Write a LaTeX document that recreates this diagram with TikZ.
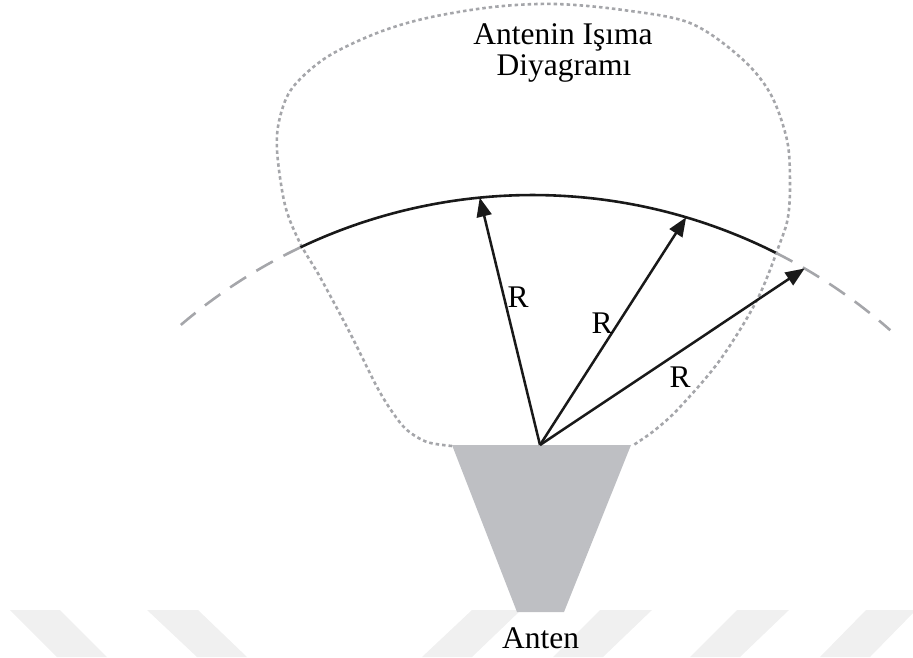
\documentclass[tikz,border=0pt]{standalone}
\usepackage{fontspec}
\setmainfont{Liberation Serif}
\usetikzlibrary{arrows.meta,calc}
\definecolor{wm}{RGB}{240,240,240}
\definecolor{dotgray}{RGB}{165,166,170}
\definecolor{antgray}{RGB}{190,191,195}
\begin{document}
\begin{tikzpicture}[x=1pt,y=1pt,
  lbl/.style={font=\fontsize{31.5}{31.5}\selectfont, inner sep=0pt},
  radarrow/.style={line width=2.5pt, draw=black!90, -{Triangle[length=19pt,width=15pt]}},
  patternline/.style={draw=dotgray, line width=2.6pt, dash pattern=on 3.5pt off 3pt, line join=round},
  farcircle/.style={draw=dotgray, line width=2.6pt, dash pattern=on 19pt off 12pt},
  nearcircle/.style={draw=black!90, line width=2.6pt},
  wmstripe/.style={fill=wm, draw=none}]
\useasboundingbox (0,0) rectangle (913,657);
\clip (0,0) rectangle (913,657);
% faint background watermark stripes
\fill[wmstripe] (10,47) -- (60,47) -- (107,0) -- (57,0) -- cycle;
\fill[wmstripe] (147,47) -- (198,47) -- (247,0) -- (197,0) -- cycle;
\fill[wmstripe] (472,47) -- (521,47) -- (472,0) -- (422,0) -- cycle;
\fill[wmstripe] (600,47) -- (652,47) -- (603,0) -- (553,0) -- cycle;
\fill[wmstripe] (737,47) -- (789,47) -- (740,0) -- (690,0) -- cycle;
\fill[wmstripe] (866,47) -- (916,47) -- (870,0) -- (820,0) -- cycle;
% key points
\coordinate (C) at (532.5,-79);
\coordinate (O) at (540,212);
\coordinate (T1) at ($(C)+(95.6:541pt)$);
\coordinate (T2) at ($(C)+(73.5:541pt)$);
\coordinate (T3) at ($(C)+(59.8:541pt)$);
\coordinate (AL) at (452,212);
\coordinate (AR) at (631,212);
\coordinate (BL) at (517,45);
\coordinate (BR) at (564,45);
% radiation pattern (dotted)
\draw[patternline] plot[smooth, tension=0.55] coordinates {
 (452,211) (427,215) (407,227) (393,244) (377,270) (350,324) (320,380)
 (300,414) (285,452) (277,507) (280,540) (293,570) (327,600) (377,624)
 (427,639) (493,650) (555,653) (623,647) (690,634) (740,600) (770,564)
 (787,517) (790,474) (788,440) (780,414) (757,357) (720,297) (680,250)
 (655,227) (632,211)};
% antenna
\fill[antgray] (AL) -- (AR) -- (BR) -- (BL) -- cycle;
% sphere of radius R
\draw[farcircle] ($(C)+(115.4:541pt)$) arc[start angle=115.4, end angle=131.4, radius=541pt];
\draw[farcircle] ($(C)+(63.3:541pt)$) arc[start angle=63.3, end angle=48.6, radius=541pt];
\draw[nearcircle] ($(C)+(115.4:541pt)$) arc[start angle=115.4, end angle=63.3, radius=541pt];
% radius arrows
\draw[radarrow] (O) -- (T1);
\draw[radarrow] (O) -- (T2);
\draw[radarrow] (O) -- (T3);
% labels
\node[lbl] (r1) at (518,360) {R};
\node[lbl] (r2) at (602,334) {R};
\node[lbl] (r3) at (680,280) {R};
\node[lbl, anchor=base] (title1) at (563,612) {Antenin Işıma};
\node[lbl, anchor=base] (title2) at (564,581) {Diyagramı};
\node[lbl, anchor=base] (anten) at (540.5,9) {Anten};
\end{tikzpicture}
\end{document}
